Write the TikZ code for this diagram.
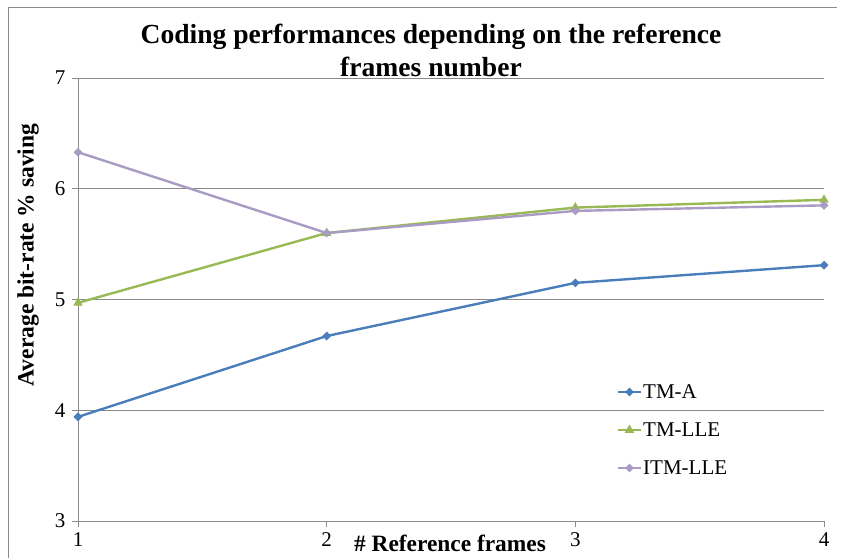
\documentclass[tikz,border=0pt]{standalone}
\usepackage{fontspec}
\setmainfont{Liberation Serif}
\usepackage{xcolor}
\usetikzlibrary{positioning,shapes.geometric}
\definecolor{tmablue}{HTML}{4A7EBB}
\definecolor{tmlgreen}{HTML}{98B954}
\definecolor{itmpurple}{HTML}{A99BC4}
\definecolor{gridgray}{HTML}{8A8A8A}

\begin{document}
\begin{tikzpicture}[x=1pt,y=1pt,
    grid line/.style={gridgray,line width=0.9pt},
    series/.style={line width=2.4pt,line join=round},
    diamondmark/.style={diamond,inner sep=0pt,minimum size=9pt},
    trianglemark/.style={regular polygon,regular polygon sides=3,inner sep=0pt,minimum size=11pt},
    ticklabel/.style={font=\fontsize{21}{24}\selectfont},
    legendlabel/.style={font=\fontsize{21}{24}\selectfont,inner sep=1pt}]
    \useasboundingbox (0,0) rectangle (846,558);
    % chart frame
    \coordinate (frameBL) at (8,0);
    \coordinate (frameTL) at (8,551);
    \coordinate (frameTR) at (837,551);
    \draw[gridgray,line width=0.9pt] (frameBL) -- (frameTL) -- (frameTR);
    \node[font=\bfseries\fontsize{27.6}{33}\selectfont,align=center] (title) at (431,508)
      {Coding performances depending on the reference\\frames number};
    \node[rotate=90,font=\bfseries\fontsize{23.5}{26}\selectfont] (ylab) at (28,303)
      {Average bit-rate \% saving};
    \node[font=\bfseries\fontsize{23.4}{26}\selectfont] (xlab) at (450,15) {\# Reference frames};
    \begin{scope}[x=248.67pt,y=110.75pt,shift={(-170.67pt,-295.25pt)}]
      % grid and axes
      \draw[grid line] (1,4) -- (4,4);
      \draw[grid line] (1,5) -- (4,5);
      \draw[grid line] (1,6) -- (4,6);
      \draw[grid line] (1,7) -- (4,7);
      \draw[grid line] (1,3) -- (4,3);
      \draw[grid line] (1,3) -- (1,7);
      \draw[grid line] (1,3) -- ++(-6pt,0);
      \draw[grid line] (1,4) -- ++(-6pt,0);
      \draw[grid line] (1,5) -- ++(-6pt,0);
      \draw[grid line] (1,6) -- ++(-6pt,0);
      \draw[grid line] (1,7) -- ++(-6pt,0);
      \draw[grid line] (1,3) -- ++(0,-6pt);
      \draw[grid line] (2,3) -- ++(0,-6pt);
      \draw[grid line] (3,3) -- ++(0,-6pt);
      \draw[grid line] (4,3) -- ++(0,-6pt);
      \node[ticklabel,left=9pt] (y3) at (1,3) {3};
      \node[ticklabel,left=9pt] (y4) at (1,4) {4};
      \node[ticklabel,left=9pt] (y5) at (1,5) {5};
      \node[ticklabel,left=9pt] (y6) at (1,6) {6};
      \node[ticklabel,left=9pt] (y7) at (1,7) {7};
      \node[ticklabel,below=8pt] (x1) at (1,3) {1};
      \node[ticklabel,below=8pt] (x2) at (2,3) {2};
      \node[ticklabel,below=8pt] (x3) at (3,3) {3};
      \node[ticklabel,below=8pt] (x4) at (4,3) {4};
      % data points
      \coordinate (A1) at (1,3.94);
      \coordinate (A2) at (2,4.67);
      \coordinate (A3) at (3,5.15);
      \coordinate (A4) at (4,5.31);
      \coordinate (L1) at (1,4.97);
      \coordinate (L2) at (2,5.60);
      \coordinate (L3) at (3,5.83);
      \coordinate (L4) at (4,5.90);
      \coordinate (I1) at (1,6.33);
      \coordinate (I2) at (2,5.60);
      \coordinate (I3) at (3,5.80);
      \coordinate (I4) at (4,5.85);
      \draw[series,tmablue] (A1) -- (A2) -- (A3) -- (A4);
      \draw[series,tmlgreen] (L1) -- (L2) -- (L3) -- (L4);
      \draw[series,itmpurple] (I1) -- (I2) -- (I3) -- (I4);
      \node[diamondmark,fill=tmablue] at (A1) {};
      \node[diamondmark,fill=tmablue] at (A2) {};
      \node[diamondmark,fill=tmablue] at (A3) {};
      \node[diamondmark,fill=tmablue] at (A4) {};
      \node[trianglemark,fill=tmlgreen] at (L1) {};
      \node[trianglemark,fill=tmlgreen] at (L2) {};
      \node[trianglemark,fill=tmlgreen] at (L3) {};
      \node[trianglemark,fill=tmlgreen] at (L4) {};
      \node[diamondmark,fill=itmpurple] at (I1) {};
      \node[diamondmark,fill=itmpurple] at (I2) {};
      \node[diamondmark,fill=itmpurple] at (I3) {};
      \node[diamondmark,fill=itmpurple] at (I4) {};
    \end{scope}
    % legend
    \coordinate (legAw) at (618,166);
    \coordinate (legAe) at (641,166);
    \coordinate (legLw) at (618,128);
    \coordinate (legLe) at (641,128);
    \coordinate (legIw) at (618,90);
    \coordinate (legIe) at (641,90);
    \draw[series,tmablue] (legAw) -- (legAe);
    \draw[series,tmlgreen] (legLw) -- (legLe);
    \draw[series,itmpurple] (legIw) -- (legIe);
    \node[diamondmark,fill=tmablue] at (629.5,166) {};
    \node[trianglemark,fill=tmlgreen] at (629.5,128) {};
    \node[diamondmark,fill=itmpurple] at (629.5,90) {};
    \node[legendlabel,right=1pt of legAe] (legA) {TM-A};
    \node[legendlabel,right=1pt of legLe] (legL) {TM-LLE};
    \node[legendlabel,right=1pt of legIe] (legI) {ITM-LLE};
\end{tikzpicture}
\end{document}
